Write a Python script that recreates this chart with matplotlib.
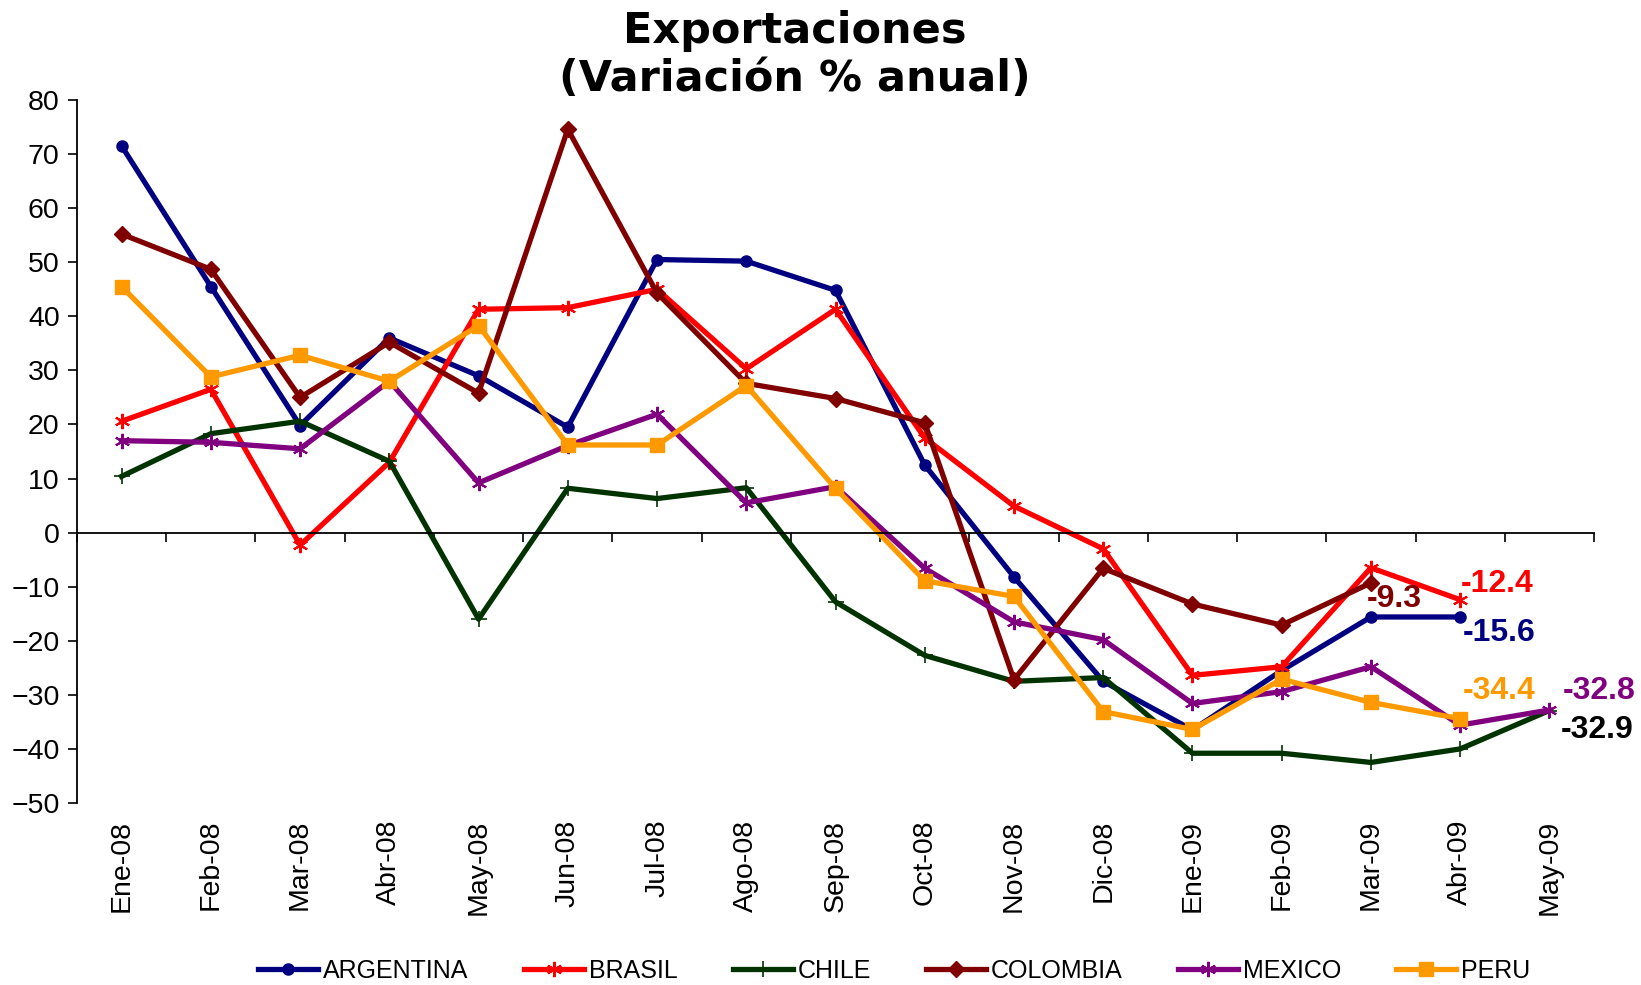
import numpy as np
import matplotlib
matplotlib.use("Agg")
import matplotlib.pyplot as plt

# --- Daten ---
meses = ["Ene-08", "Feb-08", "Mar-08", "Abr-08", "May-08", "Jun-08", "Jul-08", "Ago-08",
         "Sep-08", "Oct-08", "Nov-08", "Dic-08", "Ene-09", "Feb-09", "Mar-09", "Abr-09", "May-09"]

argentina = [71.5, 45.5, 19.8, 36.0, 29.0, 19.5, 50.5, 50.2, 44.8, 12.5, -8.2, -27.5,
             -36.5, -25.5, -15.6, -15.6, np.nan]
brasil = [20.6, 26.5, -2.3, 13.0, 41.3, 41.6, 45.0, 30.3, 41.3, 17.5, 4.9, -3.0,
          -26.4, -24.8, -6.5, -12.4, np.nan]
chile = [10.4, 18.3, 20.6, 13.2, -16.0, 8.2, 6.3, 8.3, -12.8, -22.7, -27.5, -26.8,
         -40.8, -40.8, -42.5, -40.0, -32.9]
colombia = [55.2, 48.7, 25.0, 35.2, 25.8, 74.6, 44.3, 27.6, 24.8, 20.3, -27.2, -6.6,
            -13.2, -17.1, -9.3, np.nan, np.nan]
mexico = [17.0, 16.7, 15.5, 28.0, 9.2, 16.1, 21.9, 5.5, 8.5, -6.6, -16.5, -19.8,
          -31.6, -29.4, -24.8, -35.6, -32.8]
peru = [45.5, 28.8, 32.8, 28.0, 38.3, 16.2, 16.2, 27.2, 8.2, -8.9, -11.8, -33.1,
        -36.4, -27.1, -31.4, -34.4, np.nan]

series = [
    ("ARGENTINA", argentina, "#000080", "o", 8, 1.0),
    ("BRASIL", brasil, "#FF0000", (6, 2, 0), 11, 1.5),
    ("CHILE", chile, "#003300", "+", 11, 1.2),
    ("COLOMBIA", colombia, "#800000", "D", 8, 1.0),
    ("MEXICO", mexico, "#800080", (6, 2, 0), 11, 1.5),
    ("PERU", peru, "#FF9900", "s", 10, 1.0),
]

# Endwert-Beschriftungen: (Serie, Index, Text, Farbe, dx, dy in Pixel)
etiketten = [
    (colombia, 14, "-9.3", "#800000", -4, -16),
    (brasil, 15, "-12.4", "#FF0000", 1, 16),
    (argentina, 15, "-15.6", "#000080", 3, -16),
    (peru, 15, "-34.4", "#FF9900", 3, 28),
    (mexico, 16, "-32.8", "#800080", 13, 19),
    (chile, 16, "-32.9", "#000000", 11, -19),
]

plt.rcParams['font.family'] = ['Liberation Sans', 'DejaVu Sans']

fig = plt.figure(figsize=(16.41, 9.85), dpi=100)
ax = fig.add_axes([77 / 1641, 1 - 803 / 985, (1594 - 77) / 1641, (803 - 100) / 985])

x = np.arange(len(meses)) + 0.5
for name, vals, col, mk, ms, mew in series:
    ax.plot(x, vals, color=col, lw=3.8, marker=mk, ms=ms, mew=mew,
            mec=col, mfc=col, label=name, solid_joinstyle='round')

for vals, i, txt, col, dx, dy in etiketten:
    ax.annotate(txt, (x[i], vals[i]), xytext=(dx, dy), textcoords='offset pixels',
                ha='left', va='center', color=col, fontsize=23, fontweight='bold')

# --- Achsen ---
ax.set_xlim(0, len(meses))
ax.set_ylim(-50, 80)
ax.set_yticks(np.arange(-50, 81, 10))
ax.tick_params(axis='y', direction='out', length=6.5, width=1.2, labelsize=20.5, pad=6)

ax.spines['top'].set_visible(False)
ax.spines['right'].set_visible(False)
ax.spines['left'].set_linewidth(1.3)
ax.spines['bottom'].set_position(('data', 0))
ax.spines['bottom'].set_linewidth(1.3)
ax.set_xticks(np.arange(0, len(meses) + 1))
ax.set_xticklabels([])
ax.tick_params(axis='x', direction='out', length=6.5, width=1.2)

sec = ax.secondary_xaxis(0)
sec.set_xticks(x, labels=meses, rotation=90)
sec.tick_params(length=0, pad=12, labelsize=20.5)
sec.spines['bottom'].set_visible(False)

# --- Titel & Legende ---
fig.text(0.4845, 1 - 55 / 985, "Exportaciones\n(Variación % anual)", ha='center', va='center',
         fontsize=31, fontweight='bold', family='DejaVu Sans', linespacing=1.17)

fig.legend(loc='center', bbox_to_anchor=(0.545, 1 - 971 / 985), ncol=6, frameon=False,
           fontsize=18, handlelength=2.4, columnspacing=2.2, handletextpad=0.2)

plt.savefig("out.png", dpi=100)
